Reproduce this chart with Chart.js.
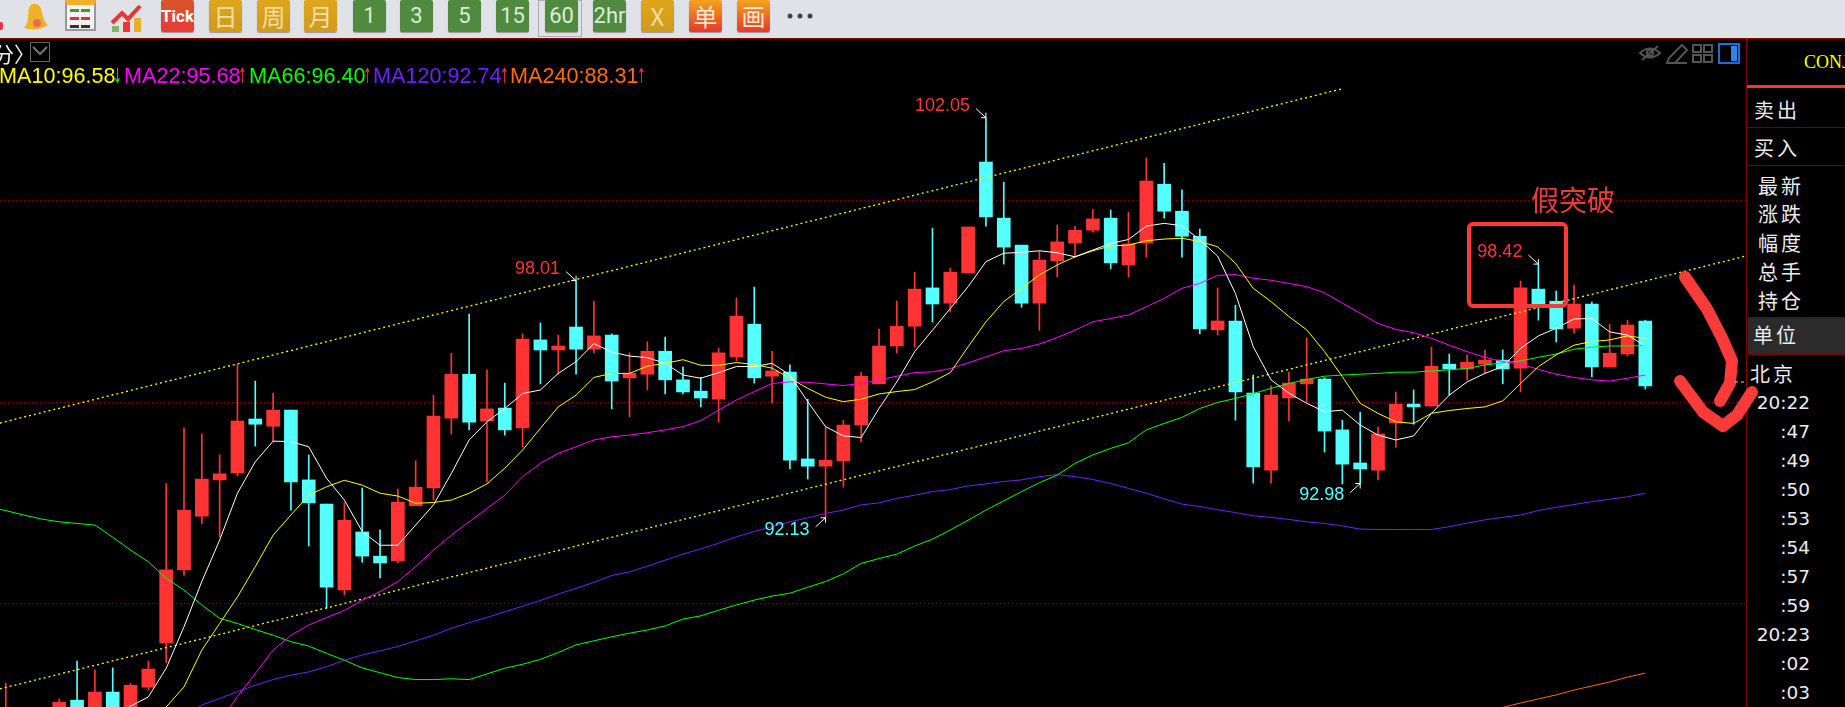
<!DOCTYPE html>
<html>
<head>
<meta charset="utf-8">
<title>60分 K线</title>
<script src="https://cdn.jsdelivr.net/npm/chart.js@4/dist/chart.umd.min.js"></script>
<style>
  html, body { margin: 0; background: #000; overflow: hidden; width: 1845px; height: 707px; }
  .abs { position: absolute; white-space: nowrap; }
  #toolbar { position: absolute; left: 0; top: 0; width: 1845px; height: 39px; background: #e0e2e8; border-bottom: 1px solid #8b0000; box-sizing: border-box; }
  .btn { position: absolute; top: 0; width: 33px; height: 32px; border-radius: 2px; text-align: center; line-height: 32px;
         font-family: "Noto Sans CJK SC", sans-serif; font-size: 24px; box-shadow: 0 1px 1px #999; }
  .gold { background: linear-gradient(#dfa61a, #cf9b1e); color: #f3dfa8; }
  .green { background: #4f8a3f; color: #dcebd6; font-family: Roboto, sans-serif; font-size: 22px; }
  .hot { background: linear-gradient(#f5a21e, #e5392c); color: #fde8d6; }
  #chart { position: absolute; left: 0; top: 39px; }
  #legend span { position: absolute; top: 64px; font: 21.6px "Liberation Sans", sans-serif; line-height: 24px; white-space: nowrap; }
  #side { position: absolute; left: 1746px; top: 39px; width: 99px; height: 668px; border-left: 1px solid #8b0000; box-sizing: border-box; background: #000; overflow: hidden; }
  #side div { position: absolute; white-space: nowrap; color: #ececec; }
  #times { left: 0; top: 0; width: 99px; height: 668px; }
  .cn { font: 20px "Noto Sans CJK SC", sans-serif; letter-spacing: 3px; line-height: 28px; }
  .tm { font: 18.5px "DejaVu Sans", sans-serif; line-height: 24px; right: 36px; }
  #overlay { position: absolute; left: 0; top: 0; }
</style>
</head>
<body>
<div id="toolbar"></div>
<canvas id="chart" width="1746" height="668"></canvas>

<div class="abs" style="left:-7px;top:38px;color:#eee;font:21px 'Noto Sans CJK SC',sans-serif;">分〉</div>
<div class="abs" style="left:30px;top:42px;width:18px;height:18px;border:1px solid #666;"></div>
<div id="legend"></div>

<div id="side">
  <div style="left:57px;top:13px;color:#ffff00;font:18px 'Liberation Serif',serif;">CONJ</div>
  <div style="left:0;top:46px;width:99px;height:3px;background:#ff3333;"></div>
  <div class="cn" style="left:7px;top:57px;">卖出</div>
  <div style="left:0;top:88px;width:99px;height:1px;background:#7a0000;"></div>
  <div class="cn" style="left:7px;top:95px;">买入</div>
  <div style="left:0;top:126px;width:99px;height:1px;background:#7a0000;"></div>
  <div class="cn" style="left:11px;top:133px;">最新</div>
  <div class="cn" style="left:11px;top:161px;">涨跌</div>
  <div class="cn" style="left:11px;top:190px;">幅度</div>
  <div class="cn" style="left:11px;top:219px;">总手</div>
  <div class="cn" style="left:11px;top:248px;">持仓</div>
  <div style="left:1px;top:278px;width:98px;height:36px;background:#2b2b2b;border-top:1px solid #7a0000;border-bottom:1px solid #7a0000;"></div>
  <div class="cn" style="left:6px;top:282px;">单位</div>
  <div class="cn" style="left:3px;top:321px;">北京</div>
  <div id="times"></div>
</div>

<svg id="overlay" width="1845" height="707" fill="none">
  <!-- toolbar dots -->
  <circle cx="790" cy="16" r="2.5" fill="#444"/><circle cx="800" cy="16" r="2.5" fill="#444"/><circle cx="810" cy="16" r="2.5" fill="#444"/>
  <!-- chart tools, top right -->
  <path d="M1640 53q10-9 20 0q-10 9-20 0z M1642 60l16-14" stroke="#555" stroke-width="2"/>
  <circle cx="1650" cy="53" r="3" stroke="#555" stroke-width="2"/>
  <path d="M1667 63h8l12-13-5-5-13 13z M1667 63h20" stroke="#555" stroke-width="2"/>
  <path d="M1693 45h8v7h-8z M1704 45h8v7h-8z M1693 55h8v7h-8z M1704 55h8v7h-8z" stroke="#555" stroke-width="2"/>
  <rect x="1719" y="44" width="20" height="19" stroke="#1e6fd0" stroke-width="2"/>
  <rect x="1731" y="46" width="6" height="15" fill="#2f86e8"/>
  <path d="M36 47l7 7 7-7" stroke="#777" stroke-width="2" transform="translate(-3 0)"/>
  <!-- hand drawn marks on the screenshot -->
  <rect x="1469" y="224" width="97" height="82" rx="4" stroke="#ff3838" stroke-width="4"/>
  <path d="M1685 277L1707 309L1722 338L1732 361L1730 383L1720 401" stroke="#fb3a3a" stroke-width="12" stroke-linecap="round" stroke-linejoin="round"/>
  <path d="M1680 381L1703 412L1723 426L1737 415L1752 392" stroke="#fb3a3a" stroke-width="12" stroke-linecap="round" stroke-linejoin="round"/>
  <path d="M1735 382h11" stroke="#ddd" stroke-dasharray="3 3"/>
  <text x="1531" y="211" fill="#e83c3c" font-family="Noto Sans CJK SC" font-size="28">假突破</text>
</svg>

<script>
// candles, oldest first. Two bars in the window have nothing visible above the bottom edge.
const opens = [87.0,null,null,87.1,87.61,87.2,87.81,87.3,87.93,89.03,
  90.84,92.17,93.07,93.24,94.58,94.40,94.80,93.07,92.47,90.34,
  91.78,91.18,91.06,92.43,92.87,94.60,95.69,94.53,94.85,94.36,
  96.54,96.29,96.86,96.31,96.66,95.60,95.69,96.26,95.55,95.27,
  95.07,96.12,96.93,95.64,95.74,93.59,93.41,93.54,94.43,95.45,
  96.39,96.88,97.83,97.45,98.20,100.95,99.56,98.89,97.45,98.50,
  98.94,99.26,99.56,98.40,98.94,100.40,99.73,99.11,96.79,97.01,
  95.22,93.31,95.10,95.45,95.57,94.31,93.49,93.31,94.48,94.95,
  94.90,95.94,95.82,95.94,96.04,95.84,97.80,97.50,96.83,97.43,
  95.87,96.19,97.01];
const closes = [87.3,null,null,87.56,87.1,87.81,87.2,87.98,88.38,90.84,
  92.32,93.09,93.22,94.53,94.45,94.80,93.02,92.50,90.41,92.07,
  91.18,91.01,92.52,92.89,94.65,95.69,94.50,94.83,94.31,96.56,
  96.29,96.39,96.31,96.64,95.52,95.71,96.26,95.55,95.25,95.10,
  96.22,97.13,95.60,95.77,93.56,93.41,93.56,94.43,95.64,96.39,
  96.88,97.80,97.43,98.22,99.34,99.59,98.84,97.45,98.52,98.97,
  99.26,99.54,98.45,98.92,100.48,99.73,99.11,96.81,97.01,95.25,
  93.39,95.17,95.47,95.57,94.28,93.46,93.34,94.21,94.95,94.88,
  95.89,95.82,95.99,96.04,95.82,97.83,97.43,96.81,97.43,95.87,
  96.21,96.91,95.40];
const highs = [88.03,null,null,87.64,88.58,88.36,88.41,88.03,88.58,92.98,
  94.36,94.21,93.69,95.93,95.52,95.22,94.80,93.69,92.47,92.50,
  92.87,91.83,92.84,93.54,95.17,96.21,97.18,95.80,95.47,96.69,
  96.96,96.66,98.01,97.50,96.69,96.22,96.49,96.61,95.87,95.61,
  96.34,97.58,97.85,96.26,95.92,95.07,94.39,94.55,95.74,96.81,
  97.50,98.22,99.31,98.32,99.34,102.05,100.45,98.89,98.74,99.39,
  99.36,99.78,99.76,99.71,101.05,100.92,100.26,99.29,97.83,97.40,
  95.67,95.40,95.74,96.59,95.60,94.55,94.75,94.38,95.25,95.30,
  96.36,96.19,96.17,96.29,96.29,98.00,98.42,97.75,97.90,97.48,
  96.93,97.03,97.03];
const lows = [86.9,null,null,87.0,87.0,87.1,87.1,87.2,87.86,88.54,
  90.71,91.98,91.66,93.17,93.91,94.02,92.32,91.43,89.89,90.22,
  91.03,90.64,91.01,92.43,92.57,94.21,94.31,93.02,94.18,93.88,
  95.45,95.69,95.69,96.22,94.83,94.63,95.30,95.20,95.20,94.88,
  94.50,96.02,95.47,94.98,93.34,93.09,92.13,92.89,94.01,95.45,
  96.22,96.36,96.98,97.23,98.20,99.36,98.42,97.35,96.78,98.10,
  98.59,99.21,98.30,98.10,98.59,99.56,98.59,96.69,96.66,94.55,
  92.99,92.99,94.53,95.00,93.76,92.97,92.98,93.07,93.88,94.45,
  94.90,95.17,95.55,95.72,95.45,95.25,97.03,96.49,96.71,95.62,
  95.87,96.14,95.32];

// moving averages, one value per candle, null where the line is off screen
const ma5 = [null,null,null,null,null,null,87.2,87.46,87.69,88.40,
  89.43,90.55,91.58,92.74,93.52,94.03,94.02,93.89,93.11,92.57,
  91.79,91.45,91.45,91.95,92.45,93.23,94.06,94.51,94.84,95.21,
  95.30,95.71,96.00,96.45,96.24,96.14,96.10,95.96,95.67,95.59,
  95.73,95.88,95.88,95.96,95.67,95.01,94.39,94.16,94.12,94.84,
  95.50,96.25,96.78,97.32,97.86,98.48,98.69,98.71,98.75,98.70,
  98.60,98.77,98.93,99.03,99.36,99.43,99.37,99.02,98.62,97.69,
  96.37,95.55,95.22,94.97,94.76,94.80,94.43,94.18,94.06,94.16,
  94.72,95.17,95.50,95.71,95.88,96.33,96.64,96.83,97.06,97.07,
  96.74,96.66,96.39];
const ma10 = [null,null,null,null,null,null,null,null,86.9,87.44,
  87.94,88.85,89.51,90.17,90.92,91.70,92.20,92.69,92.90,93.06,
  92.94,92.74,92.67,92.49,92.51,92.57,92.74,92.97,93.36,93.81,
  94.35,94.88,95.17,95.61,95.71,95.71,95.89,95.96,96.05,95.91,
  95.91,95.98,95.93,95.84,95.59,95.34,95.12,95.01,95.07,95.20,
  95.26,95.31,95.50,95.73,96.37,96.99,97.49,97.82,98.15,98.40,
  98.60,98.75,98.87,98.89,99.00,99.04,99.06,98.98,98.85,98.44,
  97.82,97.49,97.12,96.79,96.25,95.63,94.97,94.72,94.51,94.47,
  94.72,94.79,94.84,94.88,95.03,95.46,95.88,96.17,96.41,96.50,
  96.54,96.64,96.58];
const ma22 = [null,null,null,null,null,null,null,null,null,null,
  null,null,87.05,87.70,88.27,88.85,89.22,89.47,89.66,89.83,
  90.09,90.30,90.55,90.92,91.33,91.70,92.03,92.36,92.69,93.15,
  93.48,93.73,93.89,94.06,94.14,94.18,94.24,94.31,94.39,94.54,
  94.80,95.05,95.26,95.46,95.50,95.49,95.45,95.41,95.46,95.55,
  95.64,95.73,95.75,95.83,95.97,96.12,96.27,96.33,96.44,96.60,
  96.78,96.99,97.07,97.16,97.36,97.57,97.82,97.94,98.14,98.16,
  98.07,98.02,97.94,97.86,97.71,97.45,97.20,96.95,96.80,96.72,
  96.58,96.41,96.25,96.11,96.00,95.94,95.81,95.69,95.61,95.55,
  95.52,95.59,95.67];
const ma66 = [92.31,92.20,92.10,92.03,91.99,91.95,91.65,91.33,91.04,90.63,
  90.34,89.97,89.64,89.51,89.36,89.22,89.06,88.95,88.77,88.60,
  88.41,88.29,88.17,88.12,88.12,88.14,88.12,88.26,88.40,88.50,
  88.62,88.79,88.98,89.08,89.18,89.27,89.35,89.45,89.62,89.70,
  89.84,89.97,90.09,90.19,90.26,90.41,90.55,90.74,91.00,91.12,
  91.23,91.43,91.60,91.83,92.07,92.32,92.55,92.78,93.00,93.19,
  93.48,93.69,93.85,93.99,94.31,94.47,94.62,94.84,94.99,95.09,
  95.21,95.34,95.46,95.56,95.64,95.67,95.69,95.71,95.74,95.74,
  95.77,95.80,95.83,95.92,95.97,96.02,96.11,96.19,96.31,96.36,
  96.39,96.39,96.40];
// the bar just left of the window, the MA66 line comes in from it
const ma66Before = 92.40;
const ma120 = [null,null,null,null,null,null,null,null,null,null,
  87.2,87.49,87.65,87.82,87.98,88.12,88.23,88.31,88.44,88.60,
  88.73,88.83,88.94,89.08,89.22,89.39,89.53,89.66,89.80,89.94,
  90.08,90.24,90.38,90.53,90.70,90.79,90.93,91.08,91.23,91.36,
  91.50,91.66,91.79,91.91,92.03,92.13,92.24,92.32,92.45,92.50,
  92.61,92.69,92.78,92.83,92.92,92.97,93.03,93.07,93.15,93.20,
  93.15,93.08,92.98,92.86,92.74,92.60,92.47,92.41,92.33,92.26,
  92.18,92.14,92.09,92.03,91.99,91.93,91.85,91.84,91.84,91.84,
  91.84,91.91,92.00,92.08,92.14,92.20,92.31,92.39,92.46,92.53,
  92.59,92.65,92.74];
const ma240 = new Array(83).fill(null).concat([87.3,87.43,87.54,87.64,87.74,87.86,87.96,88.06,88.18,88.28]);

// trend channel drawn on the chart: index, price at both ends
const upperChannelX = [-0.33, 74.93];
const upperChannelY = [94.48, 102.76];
const lowerChannelX = [-0.33, 97.65];
const lowerChannelY = [87.89, 98.62];

const gridPrices = [90, 95, 100];

// extreme labels on the candles
const peakIndex = [55, 32, 46, 76, 86];
const peakPrice = [102.05, 98.01, 92.13, 92.98, 98.42];
const peakIsHigh = [true, true, false, false, true];

const legendNames = ['MA10', 'MA22', 'MA66', 'MA120', 'MA240'];
const legendValues = ['96.58', '95.68', '96.40', '92.74', '88.31'];
const legendArrows = ['↓', '↑', '↑', '↑', '↑'];
const legendColors = ['#ffff00', '#ff00ff', '#00ff00', '#7020ff', '#ff6a10'];
const legendLeft = [-1, 124, 249, 373, 510];
const arrowLeft = [113, 238, 363, 500, 637];

const timeLabels = ['20:22', ':47', ':49', ':50', ':53', ':54', ':57', ':59', '20:23', ':02', ':03'];

const toolButtons = [
  ['Tick', 'tick', 177], ['日', 'gold', 225], ['周', 'gold', 273], ['月', 'gold', 320],
  ['1', 'green', 369], ['3', 'green', 416], ['5', 'green', 464], ['15', 'green', 512],
  ['60', 'green', 561], ['2hr', 'green', 609], ['X', 'gold', 657], ['单', 'hot', 705], ['画', 'hot', 753],
];

const RED = '#ff3333';
const CYAN = '#54ffff';

// Toolbar
const toolbar = document.getElementById('toolbar');
toolbar.innerHTML = `
  <div class="abs" style="left:-3px;top:22px;width:6px;height:8px;background:#e34;border-radius:2px;"></div>
  <svg class="abs" style="left:18px;top:1px" width="36" height="34">
    <path d="M14 3q8-2 10 8q1 9 6 13q-10 7-24 3q5-6 4-13q0-8 4-11z" fill="#efb226"/>
    <circle cx="19" cy="22" r="4" fill="#ef6a55"/>
  </svg>
  <div class="abs" style="left:65px;top:0;width:31px;height:31px;background:#f4f4f4;border:2px solid #999;box-sizing:border-box;border-top:5px solid #f2b02a;"></div>
  <div class="abs" style="left:70px;top:9px;width:9px;height:3px;background:#3a9a3a;box-shadow:11px 0 #3a9a3a,0 8px #d33,11px 8px #d33,0 16px #333,11px 16px #333;"></div>
  <svg class="abs" style="left:110px;top:3px" width="36" height="30">
    <path d="M2 20L12 10L18 16L30 3" stroke="#e33" stroke-width="4" fill="none"/>
    <rect x="2" y="23" width="7" height="6" fill="#7fb56a"/><rect x="13" y="19" width="7" height="10" fill="#e33"/><rect x="24" y="15" width="7" height="14" fill="#e6b02a"/>
  </svg>
  <div class="abs" style="left:538px;top:0;width:44px;height:37px;border:1px solid #aab;box-sizing:border-box;"></div>
` + toolButtons.map(([text, kind, center]) => {
  const cls = kind === 'tick' ? 'hot' : kind;
  const extra = kind === 'tick'
    ? 'font:bold 17px Roboto,sans-serif;line-height:32px;color:#fff;background:linear-gradient(#d9552a,#e83a35);'
    : '';
  return `<div class="btn ${cls}" style="left:${center - 16}px;${extra}">${text}</div>`;
}).join('');

// Legend above the chart
let legendHtml = '';
legendNames.forEach((name, i) => {
  const arrowColor = legendArrows[i] === '↓' ? '#00ff00' : RED;
  legendHtml += `<span style="left:${legendLeft[i]}px;color:${legendColors[i]}">${name}:${legendValues[i]}</span>`;
  legendHtml += `<span style="left:${arrowLeft[i]}px;color:${arrowColor};font-family:'DejaVu Sans';font-size:21px;transform:scaleX(.5);transform-origin:left;">${legendArrows[i]}</span>`;
});
document.getElementById('legend').innerHTML = legendHtml;

// Time column on the right
document.getElementById('times').innerHTML = timeLabels.map((t, i) =>
  `<div class="tm" style="top:${352 + i * 29}px">${t}</div>`
).join('');

// Line over candle series
const lineSet = (values, color, order) => ({
  type: 'line',
  data: values.map((y, i) => ({ x: i, y })),
  borderColor: color,
  borderWidth: 1,
  pointRadius: 0,
  tension: 0,
  spanGaps: false,
  order,
});

const channelSet = (xs, ys) => ({
  type: 'line',
  data: xs.map((x, i) => ({ x, y: ys[i] })),
  borderColor: '#ffff00',
  borderWidth: 1.3,
  borderDash: [2, 3],
  pointRadius: 0,
  order: 8,
});

const candleColors = opens.map((o, i) => closes[i] >= o ? RED : CYAN);

const ma66Set = lineSet(ma66, '#00ff00', 4);
ma66Set.data.unshift({ x: -1, y: ma66Before });

// Price labels with the small white arrow pointing at the wick tip
const peakLabels = {
  id: 'peakLabels',
  afterDatasetsDraw(chart) {
    const { ctx, scales: { x, y } } = chart;
    ctx.save();
    ctx.font = '18px "Liberation Sans", sans-serif';
    ctx.textAlign = 'right';
    ctx.textBaseline = 'middle';
    peakIndex.forEach((idx, i) => {
      const px = x.getPixelForValue(idx);
      const py = y.getPixelForValue(peakPrice[i]);
      const dir = peakIsHigh[i] ? -1 : 1;
      ctx.fillStyle = peakIsHigh[i] ? RED : CYAN;
      ctx.fillText(peakPrice[i].toFixed(2), px - 16, py + dir * 12);
      ctx.strokeStyle = '#fff';
      ctx.lineWidth = 1;
      ctx.beginPath();
      ctx.moveTo(px - 10, py + dir * 9);
      ctx.lineTo(px, py);
      ctx.moveTo(px - 5, py);
      ctx.lineTo(px, py);
      ctx.lineTo(px, py + dir * 5);
      ctx.stroke();
    });
    ctx.restore();
  },
};

new Chart(document.getElementById('chart'), {
  type: 'bar',
  data: {
    datasets: [
      {
        data: lows.map((l, i) => ({ x: i, y: l === null ? null : [l, highs[i]] })),
        backgroundColor: candleColors,
        barThickness: 1,
        grouped: false,
        order: 11,
      },
      {
        data: opens.map((o, i) => ({ x: i, y: o === null ? null : [o, closes[i]] })),
        backgroundColor: candleColors,
        barThickness: 13,
        grouped: false,
        order: 10,
      },
      channelSet(upperChannelX, upperChannelY),
      channelSet(lowerChannelX, lowerChannelY),
      lineSet(ma240, '#ff6a10', 6),
      lineSet(ma120, '#7020ff', 5),
      ma66Set,
      lineSet(ma22, '#ff00ff', 3),
      lineSet(ma10, '#ffff00', 2),
      lineSet(ma5, '#ffffff', 1),
    ],
  },
  options: {
    responsive: false,
    animation: false,
    devicePixelRatio: 1,
    layout: { padding: 0 },
    plugins: { legend: { display: false }, tooltip: { enabled: false } },
    scales: {
      x: { type: 'linear', display: false, offset: false, min: -0.325, max: 97.65 },
      y: {
        min: 87.44,
        max: 104,
        afterBuildTicks: axis => { axis.ticks = gridPrices.map(value => ({ value })); },
        ticks: { display: false },
        border: { display: false, dash: [1, 3] },
        grid: { color: '#8b0000', drawTicks: false, lineWidth: 1 },
      },
    },
  },
  plugins: [peakLabels],
});
</script>
</body>
</html>
